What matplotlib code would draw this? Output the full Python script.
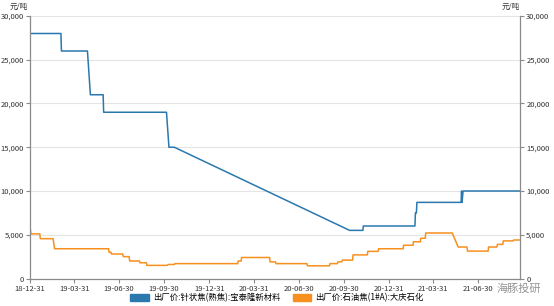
import matplotlib
matplotlib.use("Agg")
import matplotlib.pyplot as plt
import matplotlib.dates as mdates
from matplotlib.ticker import FuncFormatter
from matplotlib.patches import Patch
import pandas as pd

plt.rcParams['font.family'] = ['Noto Sans CJK SC', 'DejaVu Sans']

# 出厂价:针状焦(熟焦):宝泰隆新材料 (元/吨)
blue_dates = ["2018-12-31", "2019-03-04", "2019-03-05", "2019-04-27", "2019-05-03",
              "2019-05-29", "2019-05-30", "2019-10-05", "2019-10-10", "2019-10-21",
              "2020-10-12", "2020-11-08", "2020-11-09", "2021-02-22", "2021-02-23",
              "2021-02-25", "2021-02-26", "2021-05-27", "2021-05-28", "2021-05-29",
              "2021-05-31", "2021-09-24"]
blue_vals = [28000, 28000, 26000, 26000, 21000,
             21000, 19000, 19000, 15000, 15000,
             5500, 5500, 6000, 6000, 7500,
             7500, 8700, 8700, 10000, 8700,
             10000, 10000]

# 出厂价:石油焦(1#A):大庆石化 (元/吨)
orange_dates = ["2018-12-31", "2019-01-02", "2019-01-20", "2019-01-21", "2019-02-16",
                "2019-02-19", "2019-06-09", "2019-06-10", "2019-06-14", "2019-06-15",
                "2019-07-08", "2019-07-09", "2019-07-21", "2019-07-22", "2019-08-11",
                "2019-08-12", "2019-08-25", "2019-08-26", "2019-10-07", "2019-10-08",
                "2019-10-21", "2019-10-22", "2020-02-27", "2020-02-28", "2020-03-05",
                "2020-03-06", "2020-05-02", "2020-05-03", "2020-05-14", "2020-05-15",
                "2020-07-17", "2020-07-18", "2020-09-01", "2020-09-02", "2020-09-17",
                "2020-09-18", "2020-09-26", "2020-09-27", "2020-10-18", "2020-10-19",
                "2020-11-17", "2020-11-18", "2020-12-09", "2020-12-10", "2021-01-29",
                "2021-01-30", "2021-02-18", "2021-02-19", "2021-03-05", "2021-03-06",
                "2021-03-15", "2021-03-16", "2021-05-09", "2021-05-15", "2021-05-21",
                "2021-06-08", "2021-06-09", "2021-07-21", "2021-07-22", "2021-08-08",
                "2021-08-09", "2021-08-20", "2021-08-21", "2021-09-10", "2021-09-11",
                "2021-09-24"]
orange_vals = [5900, 5100, 5100, 4550, 4550,
               3400, 3400, 3000, 3000, 2800,
               2800, 2500, 2500, 2000, 2000,
               1800, 1800, 1500, 1500, 1600,
               1600, 1700, 1700, 2000, 2000,
               2400, 2400, 1900, 1900, 1700,
               1700, 1450, 1450, 1700, 1700,
               1900, 1900, 2100, 2100, 2700,
               2700, 3100, 3100, 3400, 3400,
               3800, 3800, 4200, 4200, 4600,
               4600, 5200, 5200, 4400, 3600,
               3600, 3130, 3130, 3600, 3600,
               3900, 3900, 4300, 4300, 4400,
               4400]

blue_label = "出厂价:针状焦(熟焦):宝泰隆新材料"
orange_label = "出厂价:石油焦(1#A):大庆石化"
tick_dates = ["2018-12-31", "2019-03-31", "2019-06-30", "2019-09-30", "2019-12-31",
              "2020-03-31", "2020-06-30", "2020-09-30", "2020-12-31", "2021-03-31",
              "2021-06-30"]
y_ticks = [0, 5000, 10000, 15000, 20000, 25000, 30000]

fig = plt.figure(figsize=(5.54, 3.06), dpi=100)
ax = fig.add_axes([30 / 554, 1 - 278.5 / 306, 490 / 554, 262.5 / 306])

ax.plot(pd.to_datetime(blue_dates), blue_vals, color="#2a78ad", linewidth=1.1,
        label=blue_label)
ax.plot(pd.to_datetime(orange_dates), orange_vals, color="#f7901e", linewidth=1.1,
        label=orange_label)

ax.set_xlim(pd.Timestamp("2018-12-31"), pd.Timestamp("2021-09-24"))
ax.set_ylim(0, 30000)

fmt = FuncFormatter(lambda v, p: f"{int(v):,}")
ax.set_yticks(y_ticks)
ax.yaxis.set_major_formatter(fmt)
ax.set_xticks(pd.to_datetime(tick_dates))
ax.xaxis.set_major_formatter(mdates.DateFormatter("%y-%m-%d"))
ax.grid(axis="y", color="#e4e4e4", linewidth=0.8)
ax.set_axisbelow(True)

ax2 = ax.twinx()
ax2.set_ylim(0, 30000)
ax2.set_yticks(y_ticks)
ax2.yaxis.set_major_formatter(fmt)

for a in (ax, ax2):
    a.spines["top"].set_visible(False)
    for s in ("left", "right", "bottom"):
        a.spines[s].set_color("#8a8a8a")
        a.spines[s].set_linewidth(0.9)
    a.tick_params(axis="both", labelsize=5.5, colors="#8a8a8a", labelcolor="#333333",
                  length=3, width=0.8, pad=1.5)
ax.spines["right"].set_visible(False)
ax2.spines["left"].set_visible(False)
ax2.spines["bottom"].set_visible(False)

# unit labels above both axes
fig.text(28 / 554, 1 - 7 / 306, "元/吨", fontsize=5.5, color="#333333",
         ha="right", va="center")
fig.text(520 / 554, 1 - 7 / 306, "元/吨", fontsize=5.5, color="#333333",
         ha="right", va="center")

# watermark
fig.text(541 / 554, 1 - 289 / 306, "海豚投研", fontsize=8, color="#7a7a7a",
         ha="right", va="center", alpha=0.8)

handles, labels = ax.get_legend_handles_labels()
patches = [Patch(color="#2a78ad"), Patch(color="#f7901e")]
fig.legend(patches, labels, loc="center", bbox_to_anchor=(0.5, 1 - 298 / 306),
           ncol=2, frameon=False, fontsize=6, handlelength=2.2, handleheight=1.0,
           columnspacing=1.5, handletextpad=0.5, borderaxespad=0)

fig.savefig("out.png", dpi=100)
